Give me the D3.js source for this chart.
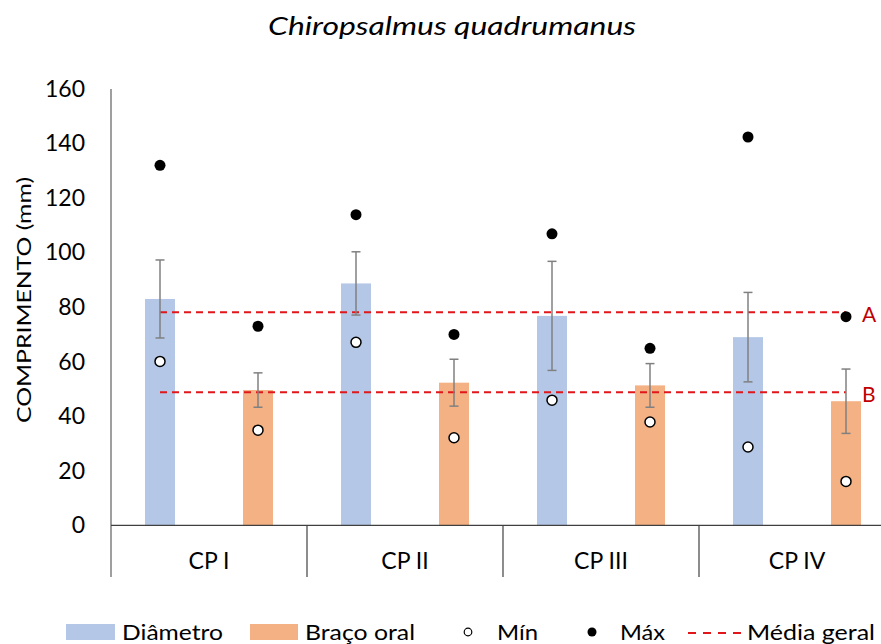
<!DOCTYPE html>
<html>
<head>
<meta charset="utf-8">
<script src="https://cdn.jsdelivr.net/npm/d3@7"></script>
<style>
  html, body { margin: 0; padding: 0; background: #fff; }
  svg { display: block; font-family: Lato, "Open Sans", sans-serif; }
</style>
</head>
<body>
<svg id="chart" width="881" height="644"></svg>
<script>
// Data
const categories = ["CP I", "CP II", "CP III", "CP IV"];
const series = ["Diâmetro", "Braço oral"];
const diametroMean = [83, 88.7, 76.8, 69.0];
const diametroErr = [14.3, 11.6, 20.0, 16.4];
const diametroMin = [60.1, 67.1, 45.9, 28.7];
const diametroMax = [132.0, 113.9, 106.9, 142.4];
const bracoMean = [49.6, 52.3, 51.3, 45.5];
const bracoErr = [6.3, 8.6, 8.0, 11.8];
const bracoMin = [34.9, 32.1, 37.9, 16.1];
const bracoMax = [73.0, 70.0, 64.9, 76.5];
const mediaGeral = [78.1, 48.8];
const mediaLabels = ["A", "B"];
const yTicks = [0, 20, 40, 60, 80, 100, 120, 140, 160];

const colors = { "Diâmetro": "#B4C7E7", "Braço oral": "#F4B183" };
const redLine = "#E0161B";
const redText = "#C00000";

const rows = [];
categories.forEach((c, i) => {
  rows.push({ cat: c, s: "Diâmetro", mean: diametroMean[i], err: diametroErr[i], min: diametroMin[i], max: diametroMax[i] });
  rows.push({ cat: c, s: "Braço oral", mean: bracoMean[i], err: bracoErr[i], min: bracoMin[i], max: bracoMax[i] });
});

const svg = d3.select("#chart");
const plotLeft = 111, plotRight = 895, plotTop = 89, plotBottom = 525.3;

const x0 = d3.scaleBand().domain(categories).range([plotLeft, plotRight]).padding(0);
const x1 = d3.scaleBand().domain(series).range([0, x0.bandwidth()])
  .paddingInner(0.694).paddingOuter(0.347);
const y = d3.scaleLinear().domain([0, 160]).range([plotBottom, plotTop]);
const cx = d => x0(d.cat) + x1(d.s) + x1.bandwidth() / 2;

// Title
svg.append("text")
  .attr("x", 452).attr("y", 35)
  .attr("text-anchor", "middle")
  .attr("font-size", 26).attr("font-style", "italic")
  .attr("textLength", 368).attr("lengthAdjust", "spacingAndGlyphs")
  .attr("fill", "#000")
  .text("Chiropsalmus quadrumanus");

// Y axis tick labels
const yAxis = d3.axisLeft(y).tickValues(yTicks).tickSize(0).tickPadding(26);
const gy = svg.append("g").attr("transform", `translate(${plotLeft},0)`).call(yAxis);
gy.select(".domain").remove();
gy.selectAll("text").attr("font-size", 23).attr("fill", "#000").attr("font-family", "Lato, sans-serif");

// Y axis title
svg.append("text")
  .attr("transform", "translate(31,300) rotate(-90)")
  .attr("text-anchor", "middle")
  .attr("font-size", 20).attr("fill", "#000")
  .attr("textLength", 246).attr("lengthAdjust", "spacingAndGlyphs")
  .text("COMPRIMENTO (mm)");

// Bars
svg.append("g").selectAll("rect").data(rows).join("rect")
  .attr("x", d => x0(d.cat) + x1(d.s))
  .attr("width", x1.bandwidth())
  .attr("y", d => y(d.mean))
  .attr("height", d => y(0) - y(d.mean))
  .attr("fill", d => colors[d.s]);

// Overall mean lines
const firstX = cx(rows[0]);
const lastX = cx(rows[rows.length - 1]);
svg.append("g").selectAll("line").data(mediaGeral).join("line")
  .attr("x1", firstX).attr("x2", lastX)
  .attr("y1", d => y(d)).attr("y2", d => y(d))
  .attr("stroke", redLine).attr("stroke-width", 2)
  .attr("stroke-dasharray", "7,5");
svg.append("g").selectAll("text").data(mediaGeral).join("text")
  .attr("x", 862).attr("y", d => y(d) + 10)
  .attr("font-size", 21).attr("fill", redText)
  .text((d, i) => mediaLabels[i]);

// Error bars
const eb = svg.append("g").attr("stroke", "#808080").attr("stroke-width", 1.5);
eb.selectAll("line.v").data(rows).join("line").attr("class", "v")
  .attr("x1", cx).attr("x2", cx)
  .attr("y1", d => y(d.mean + d.err)).attr("y2", d => y(d.mean - d.err));
eb.selectAll("line.t").data(rows).join("line").attr("class", "t")
  .attr("x1", d => cx(d) - 4.5).attr("x2", d => cx(d) + 4.5)
  .attr("y1", d => y(d.mean + d.err)).attr("y2", d => y(d.mean + d.err));
eb.selectAll("line.b").data(rows).join("line").attr("class", "b")
  .attr("x1", d => cx(d) - 4.5).attr("x2", d => cx(d) + 4.5)
  .attr("y1", d => y(d.mean - d.err)).attr("y2", d => y(d.mean - d.err));

// Max and min markers
svg.append("g").selectAll("circle").data(rows).join("circle")
  .attr("cx", cx).attr("cy", d => y(d.max)).attr("r", 5.5)
  .attr("fill", "#000");
svg.append("g").selectAll("circle").data(rows).join("circle")
  .attr("cx", cx).attr("cy", d => y(d.min)).attr("r", 5)
  .attr("fill", "#fff").attr("stroke", "#000").attr("stroke-width", 1.5);

// Axis lines
svg.append("line").attr("x1", plotLeft).attr("x2", plotLeft).attr("y1", plotTop).attr("y2", 577)
  .attr("stroke", "#7f7f7f").attr("stroke-width", 1.5);
svg.append("line").attr("x1", plotLeft).attr("x2", 881).attr("y1", plotBottom).attr("y2", plotBottom)
  .attr("stroke", "#404040").attr("stroke-width", 1.2);
svg.append("g").selectAll("line").data(categories.slice(1)).join("line")
  .attr("x1", d => x0(d)).attr("x2", d => x0(d))
  .attr("y1", plotBottom).attr("y2", 577)
  .attr("stroke", "#404040").attr("stroke-width", 1.2);

// Category labels
svg.append("g").selectAll("text").data(categories).join("text")
  .attr("x", d => x0(d) + x0.bandwidth() / 2)
  .attr("y", 569)
  .attr("text-anchor", "middle")
  .attr("font-size", 23).attr("fill", "#000")
  .text(d => d);

// Legend
const lg = svg.append("g").attr("font-size", 21).attr("fill", "#000");
const ly = 632;
const legendText = (x, w, t) => lg.append("text").attr("x", x).attr("y", 640)
  .attr("textLength", w).attr("lengthAdjust", "spacingAndGlyphs").text(t);
lg.append("rect").attr("x", 66).attr("y", 624).attr("width", 49).attr("height", 16).attr("fill", colors["Diâmetro"]);
legendText(122, 101, "Diâmetro");
lg.append("rect").attr("x", 250).attr("y", 624).attr("width", 48).attr("height", 16).attr("fill", colors["Braço oral"]);
legendText(305, 110, "Braço oral");
lg.append("circle").attr("cx", 468).attr("cy", ly).attr("r", 3.8).attr("fill", "#fff").attr("stroke", "#000").attr("stroke-width", 1.2);
legendText(497, 41, "Mín");
lg.append("circle").attr("cx", 592).attr("cy", ly).attr("r", 4.5).attr("fill", "#000");
legendText(620, 45, "Máx");
lg.append("line").attr("x1", 688).attr("x2", 742).attr("y1", 633).attr("y2", 633)
  .attr("stroke", redLine).attr("stroke-width", 2).attr("stroke-dasharray", "8,7");
legendText(747, 128, "Média geral");
</script>
</body>
</html>
